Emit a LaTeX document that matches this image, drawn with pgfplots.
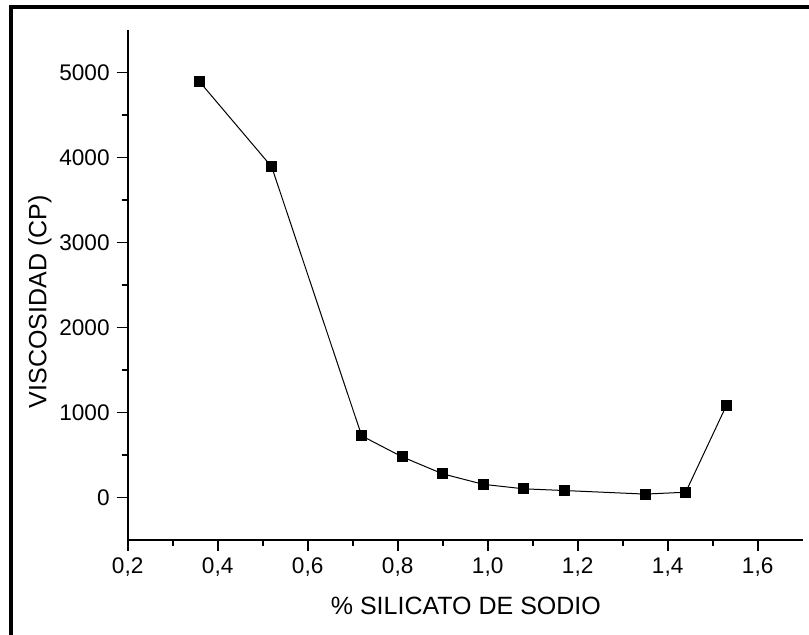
\documentclass[border=0pt]{standalone}
\usepackage{fontspec}
\setmainfont{Liberation Sans}
\usepackage{pgfplots}
\pgfplotsset{compat=1.18}

\newcommand{\tickfont}{\fontsize{11.3}{13}\selectfont}

\begin{document}
\begin{tikzpicture}
% picture frame, 1px = 0.5pt
\useasboundingbox (0,0) rectangle (404.5pt,317.5pt);
\draw[line width=2pt] (5.25pt,0) -- (5.25pt,314pt) -- (404.5pt,314pt);

\begin{axis}[
    at={(63.85pt,47.5pt)}, anchor=south west,
    scale only axis,
    width=337.5pt, height=255pt,
    xmin=0.2, xmax=1.7,
    ymin=-500, ymax=5500,
    axis lines*=left,
    axis line style={line width=0.85pt},
    tick style={line width=0.85pt, black},
    tick align=outside,
    major tick length=5.5pt,
    minor tick length=3pt,
    xtick={0.2,0.4,...,1.6},
    ytick={0,1000,...,5000},
    minor x tick num=1,
    minor y tick num=1,
    xticklabel={\tickfont\pgfmathprintnumber[assume math mode=true,fixed,fixed zerofill,precision=1,use comma]{\tick}},
    yticklabel={\tickfont\pgfmathprintnumber[assume math mode=true,fixed,precision=0,1000 sep={}]{\tick}},
    xlabel={\% SILICATO DE SODIO},
    ylabel={VISCOSIDAD (CP)},
    label style={font=\fontsize{12.5}{14}\selectfont},
    xlabel style={at={(axis description cs:0.501,-0.147)}, anchor=base},
    ylabel style={at={(axis description cs:-0.13,0.467)}, anchor=center},
    clip=false,
]
\addplot[black, line width=0.5pt, mark=square*, mark size=2.5pt,
         mark options={solid, fill=black}]
coordinates {
    (0.36,4890) (0.52,3890) (0.72,725) (0.81,478) (0.90,278)
    (0.99,155) (1.08,102) (1.17,82) (1.35,40) (1.44,62) (1.53,1078)
};
\end{axis}
\end{tikzpicture}
\end{document}
